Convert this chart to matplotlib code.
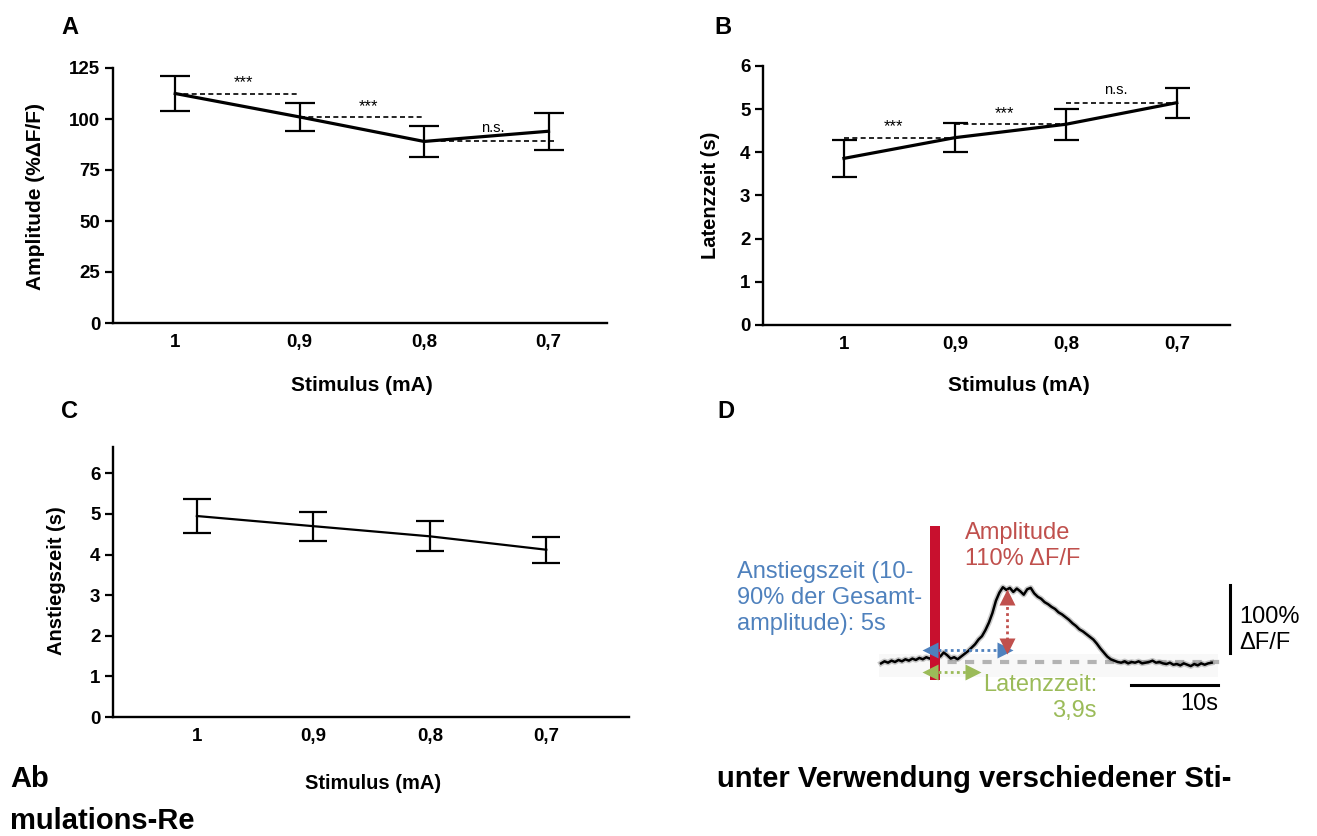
import matplotlib
matplotlib.use("Agg")
import matplotlib.pyplot as plt

plt.rcParams['font.family'] = ['Liberation Sans', 'DejaVu Sans']
plt.rcParams['font.weight'] = 'bold'
plt.rcParams['axes.labelweight'] = 'bold'

# ---- data -------------------------------------------------------------
stimulus_labels = ["1", "0,9", "0,8", "0,7"]

amp_mean = [112.5, 101.0, 89.0, 94.0]
amp_err = [8.5, 7.0, 7.7, 9.0]

lat_mean = [3.86, 4.34, 4.65, 5.15]
lat_err = [0.42, 0.33, 0.36, 0.35]

rise_mean = [4.95, 4.70, 4.45, 4.12]
rise_err = [0.42, 0.36, 0.37, 0.32]

sig_labels = ["***", "***", "n.s."]

# example calcium transient (time in s relative to stimulus, dF/F in %)
trace_t = [-6.2, -5.8, -5.4, -5.0, -4.6, -4.2, -3.8, -3.4, -3.0, -2.6, -2.2,
           -1.8, -1.4, -1.0, -0.6, -0.2, 0.2, 0.6, 1.0, 1.4, 1.8, 2.2, 2.6,
           3.0, 3.4, 3.8, 4.2, 4.6, 5.0, 5.4, 5.8, 6.2, 6.6, 7.0, 7.4, 7.8,
           8.2, 8.6, 9.0, 9.4, 9.8, 10.2, 10.6, 11.0, 11.4, 11.8, 12.2, 12.6,
           13.0, 13.4, 13.8, 14.2, 14.6, 15.0, 15.4, 15.8, 16.2, 16.6, 17.0,
           17.4, 17.8, 18.2, 18.6, 19.0, 19.4, 19.8, 20.2, 20.6, 21.0, 21.4,
           21.8, 22.2, 22.6, 23.0, 23.4, 23.8, 24.2, 24.6, 25.0, 25.4, 25.8,
           26.2, 26.6, 27.0, 27.4, 27.8, 28.2, 28.6, 29.0, 29.4, 29.8, 30.2,
           30.6, 31.0, 31.4, 31.8]
trace_f = [-2, 1, -1, 2, 0, 3, 1, 4, 2, 5, 3,
           6, 4, 7, 5, 9, 11, 8, 14, 10, 5, 7, 4,
           8, 12, 16, 21, 26, 33, 38, 47, 58, 72, 90, 102, 110,
           106, 109, 103, 108, 104, 99, 107, 109, 101, 96, 93, 88,
           85, 81, 78, 73, 70, 66, 62, 57, 53, 48, 45,
           41, 37, 33, 27, 20, 14, 8, 4, 2, 0, -1,
           1, -2, 0, -1, 1, -2, -1, 0, 2, -1, 0,
           -2, -3, -1, -4, -3, -5, -2, -4, -6, -3, -5,
           -2, -4, -2, -1]

rise_time_s = 5
latency_s = 3.9
peak_amp = 110

# ---- figure -----------------------------------------------------------
W, H = 1317, 836
fig = plt.figure(figsize=(W / 100, H / 100), dpi=100)


def box(left, top, right, bottom):
    return [left / W, 1 - bottom / H, (right - left) / W, (bottom - top) / H]


def style_axes(ax, ylim, yticks, xlim):
    x = range(len(stimulus_labels))
    ax.set_xlim(*xlim)
    ax.set_ylim(*ylim)
    ax.set_xticks(list(x))
    ax.set_xticklabels(stimulus_labels)
    ax.set_yticks(yticks)
    for s in ("top", "right"):
        ax.spines[s].set_visible(False)
    for s in ("left", "bottom"):
        ax.spines[s].set_linewidth(1.7)
    ax.tick_params(axis="y", length=6, width=1.6, labelsize=13.5, pad=3)
    ax.tick_params(axis="x", length=0, labelsize=13.5, pad=8)


def errplot(ax, mean, err, lw, capsize):
    x = list(range(len(mean)))
    ax.errorbar(x, mean, yerr=err, color="black", lw=lw, elinewidth=1.6,
                capsize=capsize, capthick=1.6, zorder=3)


def set_label_px(ax, axis, px, py, rect):
    l, t, r, b = rect
    ax_x = (px - l) / (r - l)
    ax_y = (b - py) / (b - t)
    if axis == "x":
        ax.xaxis.set_label_coords(ax_x, ax_y)
    else:
        ax.yaxis.set_label_coords(ax_x, ax_y)


def sig_text(ax, lab, x, y):
    size = 12 if lab.startswith("*") else 10.5
    off = 4.5 if lab.startswith("*") else 6.5
    ax.annotate(lab, (x, y), xytext=(0, off), textcoords="offset points",
                ha="center", va="baseline", fontsize=size, fontweight="normal")


# ---- panel A: amplitude ----------------------------------------------
rectA = (113, 68, 607, 323)
axA = fig.add_axes(box(*rectA))
style_axes(axA, (0, 125), [0, 25, 50, 75, 100, 125], (-0.5, 3.47))
errplot(axA, amp_mean, amp_err, 2.3, 11)
for i, lab in enumerate(sig_labels):
    axA.plot([i, i + 1.05 if i == 2 else i + 1], [amp_mean[i]] * 2,
             color="black", lw=1.2, linestyle=(0, (3, 2)), zorder=2)
    sig_text(axA, lab, i + 0.55, amp_mean[i])
axA.set_ylabel("Amplitude (%\u0394F/F)", fontsize=15)
axA.set_xlabel("Stimulus (mA)", fontsize=15)
set_label_px(axA, "y", 45, 196, rectA)
set_label_px(axA, "x", 362, 376, rectA)

# ---- panel B: latency --------------------------------------------------
rectB = (763, 66, 1230, 325)
axB = fig.add_axes(box(*rectB))
style_axes(axB, (0, 6), [0, 1, 2, 3, 4, 5, 6], (-0.73, 3.48))
errplot(axB, lat_mean, lat_err, 2.3, 9)
for i, lab in enumerate(sig_labels):
    axB.plot([i, i + 1], [lat_mean[i + 1]] * 2, color="black", lw=1.2,
             linestyle=(0, (3, 2)), zorder=2)
    sig_text(axB, lab, i + 0.45, lat_mean[i + 1])
axB.set_ylabel("Latenzzeit (s)", fontsize=14.5)
axB.set_xlabel("Stimulus (mA)", fontsize=15)
set_label_px(axB, "y", 720, 195, rectB)
set_label_px(axB, "x", 1019, 376, rectB)

# ---- panel C: rise time -----------------------------------------------
rectC = (113, 447, 629, 717)
axC = fig.add_axes(box(*rectC))
style_axes(axC, (0, 6.65), [0, 1, 2, 3, 4, 5, 6], (-0.72, 3.71))
errplot(axC, rise_mean, rise_err, 1.6, 10)
axC.set_ylabel("Anstiegszeit (s)", fontsize=14.5)
axC.set_xlabel("Stimulus (mA)", fontsize=14.5)
set_label_px(axC, "y", 66, 581, rectC)
set_label_px(axC, "x", 373, 774, rectC)

# ---- panel D: example trace ------------------------------------------
t0_px, f0_px, px_per_s, px_per_pct = 935, 662, 8.7, 0.68
axD = fig.add_axes(box(700, 500, 1317, 760))
axD.set_xlim((700 - t0_px) / px_per_s, (1317 - t0_px) / px_per_s)
axD.set_ylim((f0_px - 760) / px_per_pct, (f0_px - 500) / px_per_pct)
axD.axis("off")

blue, red, green = "#4f81bd", "#c0504d", "#9bbb59"

# faint background of the recording snippet
axD.fill_between([-6.4, 32.5], -22, 12, color="#f8f8f8", lw=0, zorder=0)
# stimulus marker
axD.fill_between([-0.55, 0.55], -26, 200, color="#c8102e", lw=0, zorder=4)
# baseline
axD.plot([-0.6, 33.3], [0, 0], color="#b3b3b3", lw=3, dashes=(2.2, 2.0),
         zorder=1)
# trace
axD.plot(trace_t, trace_f, color="#8a8a8a", lw=4, alpha=0.45, zorder=2)
axD.plot(trace_t, trace_f, color="black", lw=1.8, zorder=3)

# rise time arrow
y_rise = 17.6
axD.plot([-0.4, 8.0], [y_rise, y_rise], color=blue, lw=2, ls=(0, (1, 1.2)),
         zorder=5)
axD.plot([-0.6], [y_rise], marker="<", ms=12, color=blue, mec="none", zorder=5)
axD.plot([8.1], [y_rise], marker=">", ms=12, color=blue, mec="none", zorder=5)
# amplitude arrow
x_amp = 8.3
axD.plot([x_amp, x_amp], [24, 96], color=red, lw=2, ls=(0, (1, 1.2)), zorder=5)
axD.plot([x_amp], [24], marker="v", ms=12, color=red, mec="none", zorder=6)
axD.plot([x_amp], [peak_amp - 14], marker="^", ms=12, color=red, mec="none",
         zorder=6)
# latency arrow
y_lat = -14.7
axD.plot([-0.4, latency_s], [y_lat, y_lat], color=green, lw=2,
         ls=(0, (1, 1.2)), zorder=5)
axD.plot([-0.6], [y_lat], marker="<", ms=12, color=green, mec="none", zorder=5)
axD.plot([latency_s + 0.5], [y_lat], marker=">", ms=12, color=green,
         mec="none", zorder=5)

# scale bars
axD.plot([33.9, 33.9], [13, 113], color="black", lw=2.2)
axD.plot([22.5, 32.5], [-34, -34], color="black", lw=2.2)


def px(x, y):
    return (x - t0_px) / px_per_s, (f0_px - y) / px_per_pct


kw = dict(fontsize=17, fontweight="normal", linespacing=1.22)
axD.text(*px(965, 546), f"Amplitude\n{peak_amp}% \u0394F/F", color=red,
         ha="left", va="center", **kw)
axD.text(*px(737, 598),
         f"Anstiegszeit (10-\n90% der Gesamt-\namplitude): {rise_time_s}s",
         color=blue, ha="left", va="center", **kw)
lat_txt = f"{latency_s:.1f}s".replace(".", ",")
axD.text(*px(1097, 698), "Latenzzeit:\n" + lat_txt,
         color=green, ha="right", va="center", multialignment="right", **kw)
axD.text(*px(1239, 630), "100%\n\u0394F/F", color="black", ha="left",
         va="center", **kw)
axD.text(*px(1218, 704), "10s", color="black", ha="right", va="center", **kw)

# ---- panel letters and caption fragments -----------------------------
for letter, (x, y) in {"A": (70, 27), "B": (723, 27),
                       "C": (70, 412), "D": (726, 412)}.items():
    fig.text(x / W, 1 - y / H, letter, fontsize=17, ha="center", va="center")

cap = dict(fontsize=21, ha="left", va="baseline")
fig.text(10 / W, 1 - 787 / H, "Ab", **cap)
fig.text(717 / W, 1 - 787 / H, "unter Verwendung verschiedener Sti-", **cap)
fig.text(10 / W, 1 - 829 / H, "mulations-Re", **cap)

fig.savefig("out.png", dpi=100)
